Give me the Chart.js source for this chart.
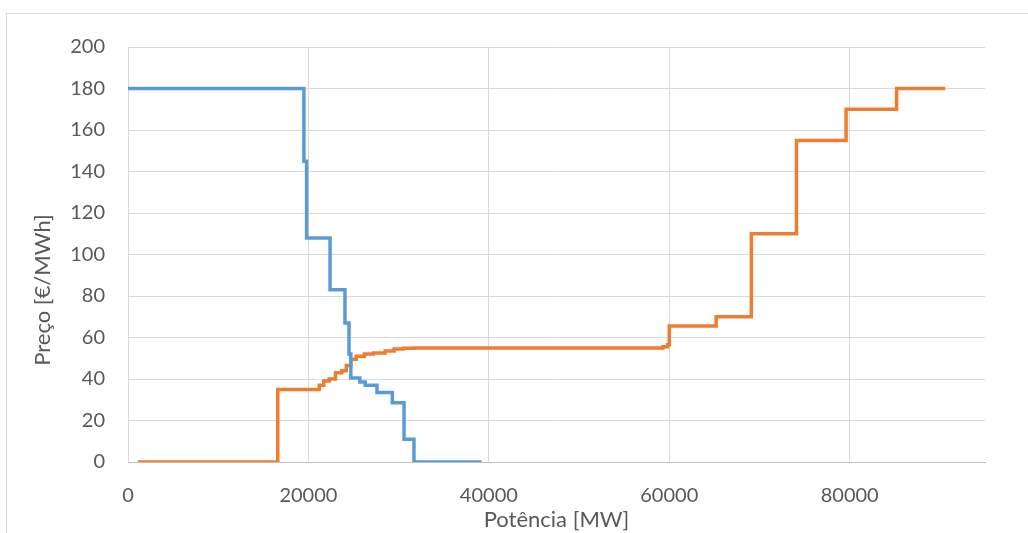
<!DOCTYPE html>
<html>
<head>
<meta charset="utf-8">
<script src="https://cdn.jsdelivr.net/npm/chart.js@4"></script>
<style>
  html, body { margin: 0; padding: 0; background: #fff; overflow: hidden; }
  #wrap { position: relative; width: 1028px; height: 533px; }
  #frame { position: absolute; left: 6px; top: 13px; width: 1040px; height: 560px; border: 1px solid #d9d9d9; box-sizing: border-box; }
  #chart { position: absolute; left: 0; top: 0; }
</style>
</head>
<body>
<div id="wrap">
  <div id="frame"></div>
  <canvas id="chart" width="1028" height="533"></canvas>
</div>
<script>
// demand curve (blue) - step points, value holds until next x
var demandX = [0, 19500, 19800, 22400, 24050, 24500, 24700, 25700, 26300, 27600, 29300, 30600, 31700, 39200];
var demandY = [180, 145, 108, 83, 67, 52, 40.5, 38.5, 37, 33.5, 28.5, 11, 0, 0];

// supply curve (orange)
var supplyX = [1100, 16600, 21200, 21700, 22300, 23000, 23700, 24200, 24700, 25300, 26200, 27200, 28500, 29500, 30500, 31700, 59300, 59800, 60000, 65200, 69100, 74100, 79600, 85200, 90600];
var supplyY = [0, 35, 37, 39, 40, 43, 44, 46.5, 49.5, 51, 52, 52.5, 53.5, 54.5, 54.8, 55, 55.5, 56.5, 65.5, 70, 110, 155, 170, 180, 180];

var xTicks = [0, 20000, 40000, 60000, 80000];
var yTicks = [0, 20, 40, 60, 80, 100, 120, 140, 160, 180, 200];

var xTitle = 'Potência [MW]';
var yTitle = 'Preço [€/MWh]';

function toPoints(xs, ys) {
    return xs.map(function (x, i) { return { x: x, y: ys[i] }; });
}

var FONT = 'Lato, "Open Sans", sans-serif';
var GREY = '#595959';

// axis titles drawn by hand so they sit where excel put them
var axisTitles = {
    id: 'axisTitles',
    afterDraw: function (chart) {
        var ctx = chart.ctx;
        var area = chart.chartArea;
        ctx.save();
        ctx.fillStyle = GREY;
        ctx.font = '22px ' + FONT;
        ctx.textAlign = 'center';
        ctx.textBaseline = 'middle';
        ctx.fillText(xTitle, (area.left + area.right) / 2, 520);
        ctx.translate(43, 290);
        ctx.rotate(-Math.PI / 2);
        ctx.fillText(yTitle, 0, 0);
        ctx.restore();
    }
};

var ctx = document.getElementById('chart').getContext('2d');
var chart = new Chart(ctx, {
    type: 'scatter',
    data: {
        datasets: [
            {
                label: 'Procura',
                data: toPoints(demandX, demandY),
                showLine: true,
                stepped: 'before', // horizontal first, then vertical
                borderColor: '#5b9bd5',
                backgroundColor: '#5b9bd5',
                borderWidth: 3.5,
                pointRadius: 0
            },
            {
                label: 'Oferta',
                data: toPoints(supplyX, supplyY),
                showLine: true,
                stepped: 'before',
                borderColor: '#ed7d31',
                backgroundColor: '#ed7d31',
                borderWidth: 3.5,
                pointRadius: 0
            }
        ]
    },
    options: {
        responsive: false,
        animation: false,
        layout: { padding: { top: 47, right: 43, left: 0, bottom: 0 } },
        plugins: {
            legend: { display: false },
            tooltip: { enabled: false }
        },
        scales: {
            x: {
                type: 'linear',
                min: 0,
                max: 95000,
                afterFit: function (s) { s.height = 71; },
                afterBuildTicks: function (s) {
                    s.ticks = xTicks.map(function (v) { return { value: v }; });
                },
                border: { color: '#bfbfbf', width: 1 },
                grid: { color: '#d9d9d9', drawTicks: false },
                ticks: {
                    padding: 22,
                    color: GREY,
                    font: { family: FONT, size: 20 },
                    callback: function (v) { return String(v); }
                }
            },
            y: {
                min: 0,
                max: 200,
                afterFit: function (s) { s.width = 128; },
                afterBuildTicks: function (s) {
                    s.ticks = yTicks.map(function (v) { return { value: v }; });
                },
                border: { display: false },
                grid: { color: '#d9d9d9', drawTicks: false },
                ticks: {
                    padding: 23,
                    color: GREY,
                    font: { family: FONT, size: 20 }
                }
            }
        }
    },
    plugins: [axisTitles]
});
</script>
</body>
</html>
